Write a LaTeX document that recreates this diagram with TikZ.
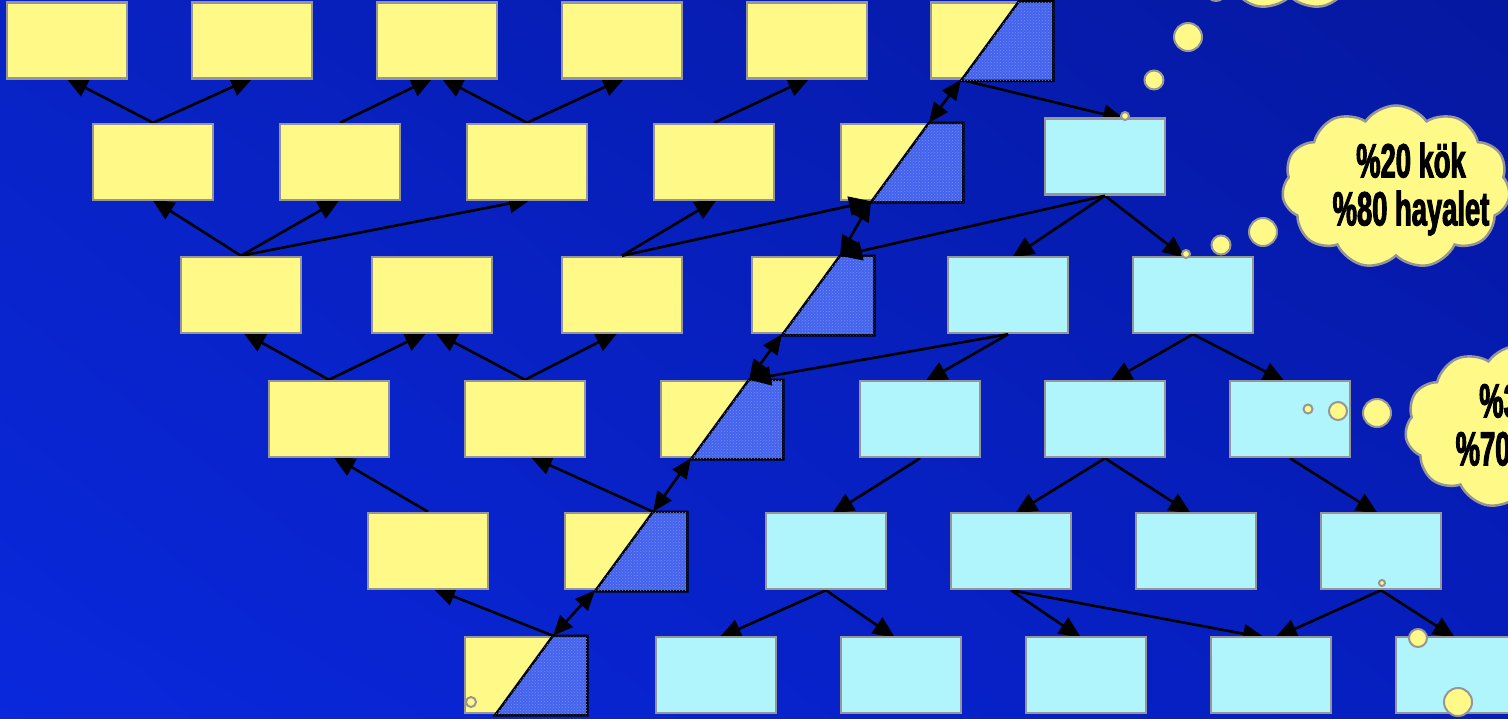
\documentclass[tikz,border=0pt]{standalone}
\usepackage{fontspec}
\setmainfont{Liberation Sans}
\newfontfamily\cloudfont{Liberation Sans Bold}[FakeStretch=0.57,FakeBold=2]
\usetikzlibrary{arrows.meta,shapes.symbols,patterns,shadings}
\pgfdeclarelayer{back}
\pgfdeclarelayer{behind}
\pgfsetlayers{back,behind,main}
\definecolor{boxyellow}{RGB}{255,250,136}
\definecolor{boxcyan}{RGB}{176,244,252}
\definecolor{boxgray}{RGB}{150,150,150}
\definecolor{hatchblue}{RGB}{68,98,235}
\definecolor{hatchlight}{RGB}{115,145,250}
\definecolor{bgUL}{RGB}{8,34,195}
\definecolor{bgUR}{RGB}{5,24,160}
\definecolor{bgLL}{RGB}{10,40,220}
\definecolor{bgLR}{RGB}{6,30,190}
\tikzset{
  basebox/.style={draw=boxgray, line width=2.5pt, minimum width=120pt, minimum height=76pt, inner sep=0pt},
  ybox/.style={basebox, fill=boxyellow},
  cbox/.style={basebox, fill=boxcyan},
  hatchpart/.style={draw=black, line width=2.5pt, line join=miter, fill=hatchblue,
     postaction={pattern=crosshatch dots, pattern color=hatchlight}},
  arr/.style={draw=black, line width=2.6pt, -{Triangle[length=22pt,width=19pt]}},
  darr/.style={draw=black, line width=2.6pt, {Triangle[length=20pt,width=17pt]}-{Triangle[length=20pt,width=17pt]}},
  bubble/.style={draw=boxgray, line width=2pt, fill=boxyellow, circle, inner sep=0pt},
  thought/.style={draw=boxgray, line width=2.5pt, fill=boxyellow, cloud, cloud puffs=11, cloud puff arc=110, aspect=1.4, minimum width=228pt, minimum height=163pt, inner sep=0pt},
  cloudtext/.style={align=center, font=\cloudfont\fontsize{48}{48}\selectfont, text=black, inner sep=0pt}
}
\begin{document}
\begin{tikzpicture}[x=1pt,y=-1pt]
\useasboundingbox (0,0) rectangle (1508,718);
\begin{pgfonlayer}{back}
\shade[upper left=bgUL, upper right=bgUR, lower left=bgLL, lower right=bgLR] (0,0) rectangle (1508,718);
\end{pgfonlayer}
\clip (0,0) rectangle (1508,718);

% row 1
\node[ybox] (y11) at (67,40.5) {};
\node[ybox] (y12) at (252,40.5) {};
\node[ybox] (y13) at (437,40.5) {};
\node[ybox] (y14) at (622,40.5) {};
\node[ybox] (y15) at (807,40.5) {};
\node[ybox] (h1) at (991,40.5) {};
% row 2
\node[ybox] (y21) at (153,162) {};
\node[ybox] (y22) at (340,162) {};
\node[ybox] (y23) at (527,162) {};
\node[ybox] (y24) at (714,162) {};
\node[ybox] (h2) at (901,162) {};
\node[cbox] (c21) at (1105,156.5) {};
% row 3
\node[ybox] (y31) at (241,295) {};
\node[ybox] (y32) at (432,295) {};
\node[ybox] (y33) at (622,295) {};
\node[ybox] (h3) at (812,295) {};
\node[cbox] (c31) at (1008,295) {};
\node[cbox] (c32) at (1193,295) {};
% row 4
\node[ybox] (y41) at (329,419) {};
\node[ybox] (y42) at (525,419) {};
\node[ybox] (h4) at (721,419) {};
\node[cbox] (c41) at (920,419) {};
\node[cbox] (c42) at (1105,419) {};
\node[cbox] (c43) at (1290,419) {};
% row 5
\node[ybox] (y51) at (428,551) {};
\node[ybox] (h5) at (625,551) {};
\node[cbox] (c51) at (826,551) {};
\node[cbox] (c52) at (1011,551) {};
\node[cbox] (c53) at (1196,551) {};
\node[cbox] (c54) at (1381,551) {};
% row 6
\node[ybox] (h6) at (525,675) {};
\node[cbox] (c61) at (716,675) {};
\node[cbox] (c62) at (901,675) {};
\node[cbox] (c63) at (1086,675) {};
\node[cbox] (c64) at (1271,675) {};
\node[cbox] (c65) at (1456,675) {};

% hatched parts
\foreach \h in {h1,h2,h3,h4,h5,h6}{
  \draw[hatchpart] ([xshift=28pt]\h.north) -- ([xshift=1pt]\h.north east) -- ([xshift=1pt,yshift=-1pt]\h.south east) -- ([xshift=-30pt,yshift=-1pt]\h.south) -- cycle;
  \coordinate (\h t) at ([xshift=28pt]\h.north);
  \coordinate (\h b) at ([xshift=-30pt]\h.south);
}

% thought bubbles
\node[bubble, minimum size=8pt] (p1) at (1125,116) {};
\node[bubble, minimum size=19pt] (p2) at (1154,80) {};
\node[bubble, minimum size=28pt] (p3) at (1188,37) {};
\node[bubble, minimum size=20pt] (p4) at (1216,-9) {};
\node[bubble, minimum size=8pt] (q1) at (1186,254) {};
\node[bubble, minimum size=19pt] (q2) at (1221,245) {};
\node[bubble, minimum size=28pt] (q3) at (1263,232) {};
\node[bubble, minimum size=9pt] (r1) at (1308,409) {};
\node[bubble, minimum size=18pt] (r2) at (1338,411) {};
\node[bubble, minimum size=28pt] (r3) at (1377,413) {};
\node[bubble, minimum size=6pt] (s1) at (1382,583) {};
\node[bubble, minimum size=18pt] (s2) at (1418,638) {};
\node[bubble, minimum size=28pt] (s3) at (1458,702) {};
\node[bubble, minimum size=10pt] (o1) at (471,702) {};

% arrows drawn behind the boxes (tips slightly hidden by the target box)
\begin{pgfonlayer}{behind}
% row2 -> row1
\draw[arr] (y21.north) -- ([xshift=-1pt,yshift=2pt]y11.south);
\draw[arr] (y21.north) -- ([xshift=1pt,yshift=2pt]y12.south);
\draw[arr] (y22.north) -- ([xshift=-4pt,yshift=2pt]y13.south);
\draw[arr] (y23.north) -- ([xshift=4pt,yshift=2pt]y13.south);
\draw[arr] (y23.north) -- ([xshift=3pt,yshift=2pt]y14.south);
\draw[arr] (y24.north) -- ([xshift=3pt,yshift=2pt]y15.south);
\draw[arr] (h1b) -- ([xshift=20pt,yshift=-2pt]c21.north);
% row3 -> row2
\draw[arr] (y31.north) -- ([xshift=-1pt,yshift=2pt]y21.south);
\draw[arr] (y31.north) -- ([yshift=2pt]y22.south);
\draw[arr] (y31.north) -- ([xshift=4pt,yshift=2pt]y23.south);
\draw[arr] (y33.north) -- ([xshift=3pt,yshift=2pt]y24.south);
\draw[arr] (c21.south) -- ([xshift=4pt,yshift=-2pt]c31.north);
\draw[arr] (c21.south) -- ([xshift=-8pt,yshift=-2pt]c32.north);
% row4 -> row3
\draw[arr] (y41.north) -- ([xshift=2pt,yshift=2pt]y31.south);
\draw[arr] (y41.north) -- ([xshift=-5pt,yshift=2pt]y32.south);
\draw[arr] (y42.north) -- ([xshift=3pt,yshift=2pt]y32.south);
\draw[arr] (y42.north) -- ([xshift=-4pt,yshift=2pt]y33.south);
\draw[arr] (c31.south) -- ([xshift=5pt,yshift=-2pt]c41.north);
\draw[arr] (c32.south) -- ([xshift=5pt,yshift=-2pt]c42.north);
\draw[arr] (c32.south) -- ([xshift=-5pt,yshift=-2pt]c43.north);
% row5 -> row4
\draw[arr] (y51.north) -- ([xshift=4pt,yshift=2pt]y41.south);
\draw[arr] (h5t) -- ([xshift=5pt,yshift=2pt]y42.south);
\draw[arr] (c41.south) -- ([xshift=6pt,yshift=-2pt]c51.north);
\draw[arr] (c42.south) -- ([xshift=4pt,yshift=-2pt]c52.north);
\draw[arr] (c42.south) -- ([xshift=-5pt,yshift=-2pt]c53.north);
\draw[arr] (c43.south) -- ([xshift=-3pt,yshift=-2pt]c54.north);
% row6 -> row5
\draw[arr] (h6t) -- ([xshift=5pt,yshift=2pt]y51.south);
\draw[arr] (c51.south) -- ([xshift=3pt,yshift=-2pt]c61.north);
\draw[arr] (c51.south) -- ([xshift=-6pt,yshift=-2pt]c62.north);
\draw[arr] (c52.south) -- ([xshift=-5pt,yshift=-2pt]c63.north);
\draw[arr] (c52.south) -- ([xshift=-6pt,yshift=-2pt]c64.north);
\draw[arr] (c54.south) -- ([xshift=4pt,yshift=-2pt]c64.north);
\draw[arr] (c54.south) -- ([xshift=-1pt,yshift=-2pt]c65.north);
\end{pgfonlayer}

% arrows meeting the hatched corners (drawn on top)
\draw[darr] (h2t) -- (h1b);
\draw[darr] (h3t) -- (h2b);
\draw[darr] (h4t) -- (h3b);
\draw[darr] (h5t) -- (h4b);
\draw[darr] (h6t) -- (h5b);
\draw[arr] (y33.north) -- (h2b);
\draw[arr] (c21.south) -- (h3t);
\draw[arr] (c31.south) -- (h4t);

% clouds
\node[thought] (cl1) at (1290,-72) {};
\node[thought] (cl2) at (1396,187) {};
\node[cloudtext] (t2) at (1411,189) {\%20 kök\\\%80 hayalet};
\node[thought] (cl3) at (1519,427) {};
\node[cloudtext] (t3) at (1534,429) {\%30 kök\\\%70 hayalet};
\end{tikzpicture}
\end{document}
